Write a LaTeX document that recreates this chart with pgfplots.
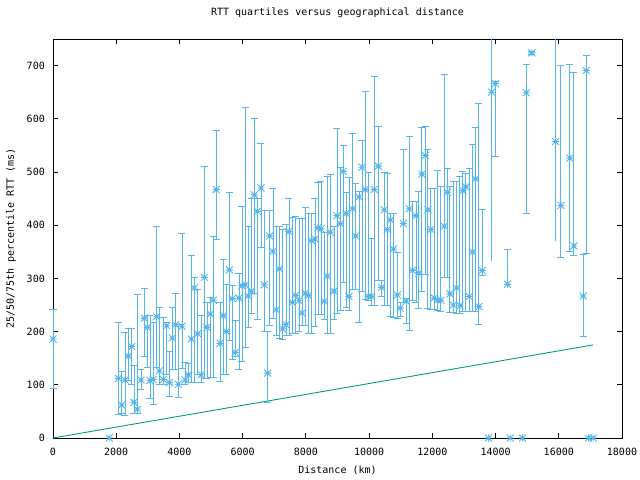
\documentclass[border=0pt]{standalone}
\usepackage{pgfplots}
\usepackage{pgfplotstable}
\pgfplotsset{compat=1.18}
\usepackage{fontspec}
\setmainfont{DejaVu Sans Mono}
\definecolor{rttblue}{HTML}{56B4E9}
\definecolor{rttgreen}{HTML}{009E73}
\pgfdeclareplotmark{plusx}{%
  \pgfpathmoveto{\pgfqpoint{-\pgfplotmarksize}{0pt}}\pgfpathlineto{\pgfqpoint{\pgfplotmarksize}{0pt}}%
  \pgfpathmoveto{\pgfqpoint{0pt}{-\pgfplotmarksize}}\pgfpathlineto{\pgfqpoint{0pt}{\pgfplotmarksize}}%
  \pgfpathmoveto{\pgfqpoint{-\pgfplotmarksize}{-\pgfplotmarksize}}\pgfpathlineto{\pgfqpoint{\pgfplotmarksize}{\pgfplotmarksize}}%
  \pgfpathmoveto{\pgfqpoint{-\pgfplotmarksize}{\pgfplotmarksize}}\pgfpathlineto{\pgfqpoint{\pgfplotmarksize}{-\pgfplotmarksize}}%
  \pgfusepathqstroke}
\pgfplotstableread{
x m l h
0 186 94 241
2067 112 45 218
2172 62 46 125
2277 109 42 199
2383 154 109 205
2488 172 100 205
2562 67 46 136
2667 54 46 269
2783 109 92 129
2889 225 153 282
2984 208 133 230
3068 108 75 230
3173 110 64 218
3279 228 133 398
3363 126 100 246
3490 110 100 227
3595 211 119 218
3679 104 79 162
3774 188 129 246
3880 213 129 271
3964 101 77 213
4080 210 131 385
4175 109 100 142
4280 119 104 141
4375 186 104 344
4470 282 104 302
4576 196 119 280
4681 119 104 230
4787 302 112 511
4871 208 112 254
4976 233 114 264
5071 259 114 378
5166 467 373 578
5282 178 106 254
5387 230 119 336
5482 200 119 288
5577 316 183 462
5672 262 148 286
5767 161 154 221
5883 263 128 310
5978 286 144 435
6083 288 170 621
6178 267 208 398
6273 276 235 451
6368 457 272 600
6463 426 223 451
6579 470 359 553
6684 288 201 427
6790 122 67 201
6853 380 212 427
6958 351 225 470
7064 241 192 398
7159 318 188 398
7264 205 185 392
7370 213 192 402
7465 388 192 451
7570 255 197 414
7675 268 197 417
7781 258 201 412
7876 235 211 412
7981 272 211 434
8076 268 196 423
8181 371 196 423
8287 374 210 451
8382 395 233 481
8477 393 232 483
8582 257 223 387
8677 304 196 492
8772 387 196 495
8888 276 222 397
8983 418 235 581
9088 403 239 508
9183 501 293 550
9278 422 246 461
9363 266 239 489
9478 431 279 572
9573 380 279 479
9679 453 218 464
9774 509 276 559
9879 467 261 651
9974 266 259 500
10069 266 249 376
10164 467 249 679
10290 511 296 585
10396 283 266 296
10480 429 249 500
10575 392 249 498
10670 410 228 422
10765 355 227 422
10891 269 225 348
10986 244 228 254
11081 403 254 543
11176 257 216 263
11271 431 203 566
11376 315 259 445
11482 418 254 445
11576 310 244 464
11671 496 276 584
11777 531 307 586
11861 429 244 542
11956 392 242 470
12061 263 241 470
12167 259 240 503
12272 259 238 473
12378 398 301 683
12473 462 301 506
12557 271 236 473
12662 250 236 483
12768 282 235 483
12873 249 235 491
12968 465 238 501
13063 472 238 497
13168 266 238 506
13274 350 238 552
13369 487 238 583
13474 247 213 629
13580 315 306 429
13991 666 530 671
14381 289 289 355
14971 649 422 703
15150 724 721 727
16068 437 340 700
16352 526 351 703
16479 361 343 688
16774 267 191 345
16869 691 346 719
}\dataA
\pgfplotstableread{
x m l h
13875 650 332 750
15899 557 370 750
}\dataB
\pgfplotstableread{
x m
1781 0
13780 0
14465 0
14855 0
16943 0
17090 0
}\dataZ
\begin{document}
\begin{tikzpicture}
\path[use as bounding box] (0,0) rectangle (640bp,480bp);
\begin{axis}[
  at={(53bp,42bp)}, anchor=south west,
  scale only axis, width=569bp, height=399bp,
  xmin=0, xmax=18000, ymin=0, ymax=750,
  xtick={0,2000,...,18000}, ytick={0,100,...,700},
  scaled x ticks=false, scaled y ticks=false,
  /pgf/number format/set thousands separator={},
  /pgf/number format/assume math mode=true,
  font=\fontsize{10bp}{12bp}\selectfont,
  tick align=inside, major tick length=5bp,
  every tick/.style={black, line width=0.8bp},
  axis line style={line width=0.9bp},
  clip=false,
  title={RTT quartiles versus geographical distance},
  title style={at={(0.5,1)}, anchor=center, yshift=20bp},
  xlabel={Distance (km)},
  xlabel style={at={(0.5,0)}, anchor=center, yshift=-32bp},
  ylabel={25/50/75th percentile RTT (ms)},
  ylabel style={at={(axis description cs:-0.0738,0.5)}, anchor=center},
  xticklabel style={anchor=center, yshift=-14bp},
  yticklabel style={anchor=east, inner sep=0pt, xshift=-8bp},
]
\addplot[rttgreen, line width=0.9bp] coordinates {(0,0) (17090,175)};
\addplot[only marks, mark=plusx, mark size=3.5bp, color=rttblue, line width=0.9bp,
  error bars/.cd, y dir=both, y explicit,
  error bar style={line width=0.9bp},
  error mark options={rttblue, rotate=90, mark size=3.5bp, line width=0.9bp}]
  table[x=x, y=m, y error plus expr=\thisrow{h}-\thisrow{m}, y error minus expr=\thisrow{m}-\thisrow{l}] {\dataA};
\addplot[only marks, mark=plusx, mark size=3.5bp, color=rttblue, line width=0.9bp,
  error bars/.cd, y dir=both, y explicit, error mark=none,
  error bar style={line width=0.9bp}]
  table[x=x, y=m, y error plus expr=\thisrow{h}-\thisrow{m}, y error minus expr=\thisrow{m}-\thisrow{l}] {\dataB};
\addplot[only marks, mark=plusx, mark size=3.5bp, color=rttblue, line width=0.9bp]
  table[x=x, y=m] {\dataZ};
\end{axis}
\end{tikzpicture}
\end{document}
